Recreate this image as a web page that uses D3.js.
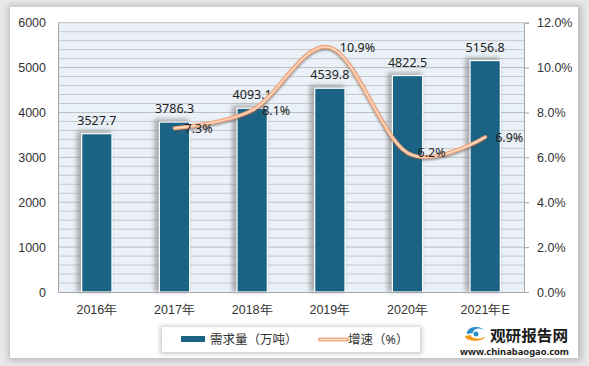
<!DOCTYPE html>
<html><head><meta charset="utf-8">
<script src="https://cdn.jsdelivr.net/npm/d3@7"></script>
<style>
html,body{margin:0;padding:0;background:#e9e9e9;}
svg{display:block;font-family:"Noto Sans","Noto Sans CJK SC",sans-serif;}
</style></head><body>
<svg id="c" width="589" height="366"></svg>
<script>
const categories = ["2016年","2017年","2018年","2019年","2020年","2021年E"];
const demand = [3527.7, 3786.3, 4093.1, 4539.8, 4822.5, 5156.8];
const growthCats = ["2017年","2018年","2019年","2020年","2021年E"];
const growth = [7.3, 8.1, 10.9, 6.2, 6.9];
const leftTicks = [0,1000,2000,3000,4000,5000,6000];
const rightTicks = [0,2,4,6,8,10,12];
const seriesNames = ["需求量（万吨）","增速（%）"];

const svg = d3.select("#c");
const defs = svg.append("defs");
const f1 = defs.append("filter").attr("id","panelShadow").attr("x","-5%").attr("y","-5%").attr("width","110%").attr("height","110%");
f1.append("feGaussianBlur").attr("stdDeviation",3);
const f2 = defs.append("filter").attr("id","barShadow").attr("x","-50%").attr("y","-20%").attr("width","200%").attr("height","140%");
f2.append("feGaussianBlur").attr("stdDeviation",2);
const f3 = defs.append("filter").attr("id","lineShadow").attr("x","-10%").attr("y","-10%").attr("width","120%").attr("height","120%");
f3.append("feGaussianBlur").attr("stdDeviation",1);

// panel
svg.append("rect").attr("x",8).attr("y",5).attr("width",574).attr("height",356).attr("fill","#bdbdbd").attr("filter","url(#panelShadow)");
svg.append("rect").attr("x",10).attr("y",7).attr("width",568).attr("height",351).attr("fill","#ffffff");

const L=58, R=524, T=22.7, B=292;
const x = d3.scaleBand().domain(categories).range([L,R]).paddingInner(0.61).paddingOuter(0.305);
const y = d3.scaleLinear().domain([0,6000]).range([B,T]);
const y2 = d3.scaleLinear().domain([0,12]).range([B,T]);

svg.append("rect").attr("x",L).attr("y",T).attr("width",R-L).attr("height",B-T).attr("fill","#eaf1f8");
// grid
svg.append("g").selectAll("line").data(d3.range(200,6001,200)).join("line")
  .attr("x1",L).attr("x2",R).attr("y1",d=>y(d)).attr("y2",d=>y(d))
  .attr("stroke",d=>d%1000===0?"#bdbdbd":"#c9c9c9").attr("stroke-width",1);

// bars
const bw = x.bandwidth();
svg.append("g").selectAll("rect").data(demand).join("rect")
  .attr("x",(d,i)=>x(categories[i])-5).attr("y",d=>y(d)-3)
  .attr("width",bw+4).attr("height",d=>B-y(d)+3)
  .attr("fill","#777").attr("opacity",0.55).attr("filter","url(#barShadow)");
svg.append("g").selectAll("rect").data(demand).join("rect")
  .attr("x",(d,i)=>x(categories[i])).attr("y",d=>y(d))
  .attr("width",bw).attr("height",d=>B-y(d))
  .attr("fill","#1b6385").attr("stroke","#ffffff").attr("stroke-width",1.2);

// axes
const gl = svg.append("g").attr("transform",`translate(${L},0)`)
  .call(d3.axisLeft(y).tickValues(leftTicks).tickSize(0).tickPadding(12).tickFormat(d3.format("d")));
gl.select(".domain").attr("stroke","#a6a6a6");
gl.selectAll("text").attr("font-size",12.5).attr("fill","#333");
const gr = svg.append("g").attr("transform",`translate(${R},0)`)
  .call(d3.axisRight(y2).tickValues(rightTicks).tickSize(5).tickPadding(8).tickFormat(d=>d.toFixed(1)+"%"));
gr.select(".domain").attr("stroke","#a6a6a6");
gr.selectAll("line").attr("stroke","#a6a6a6");
gr.selectAll("text").attr("font-size",12.5).attr("fill","#333");
const gb = svg.append("g").attr("transform",`translate(0,${B})`)
  .call(d3.axisBottom(x).tickSize(0).tickPadding(13));
gb.select(".domain").attr("stroke","#a6a6a6");
gb.selectAll("text").attr("font-size",12.5).attr("fill","#333");

// bar labels
svg.append("g").selectAll("text").data(demand).join("text")
  .attr("x",(d,i)=>x(categories[i])+bw/2).attr("y",d=>y(d)-9)
  .attr("text-anchor","middle").attr("font-size",12.5).attr("fill","#222")
  .text(d=>d.toFixed(1));

// line
const cx = c=>x(c)+bw/2;
const line = d3.line().x((d,i)=>cx(growthCats[i])).y(d=>y2(d)).curve(d3.curveCardinal.tension(0));
svg.append("path").datum(growth).attr("d",line).attr("fill","none").attr("stroke","#555").attr("stroke-opacity",0.6)
  .attr("stroke-width",4).attr("transform","translate(0,1.5)").attr("filter","url(#lineShadow)");
svg.append("path").datum(growth).attr("d",line).attr("fill","none").attr("stroke","#f4a57a").attr("stroke-width",4).attr("stroke-linecap","round");
svg.append("path").datum(growth).attr("d",line).attr("fill","none").attr("stroke","#fde3d0").attr("stroke-width",1.3).attr("stroke-linecap","round");
svg.append("g").selectAll("text").data(growth).join("text")
  .attr("x",(d,i)=>cx(growthCats[i])+10).attr("y",d=>y2(d)+4.5)
  .attr("font-size",12.5).attr("fill","#222").text(d=>d.toFixed(1)+"%");

// legend
svg.append("rect").attr("x",160).attr("y",326).attr("width",262).attr("height",28).attr("fill","#999").attr("opacity",0.5).attr("filter","url(#barShadow)");
svg.append("rect").attr("x",162).attr("y",327).attr("width",258).attr("height",25).attr("fill","#fff");
svg.append("rect").attr("x",181).attr("y",336).attr("width",24).attr("height",6).attr("fill","#1b6385");
svg.append("text").attr("x",210).attr("y",344).attr("font-size",12.5).attr("fill","#333").text(seriesNames[0]);
svg.append("line").attr("x1",320).attr("x2",347).attr("y1",339.5).attr("y2",339.5).attr("stroke","#f4a57a").attr("stroke-width",4).attr("stroke-linecap","round");
svg.append("line").attr("x1",320).attr("x2",347).attr("y1",339.5).attr("y2",339.5).attr("stroke","#fde3d0").attr("stroke-width",1.3);
svg.append("text").attr("x",348).attr("y",344).attr("font-size",12.5).attr("fill","#333").text(seriesNames[1]);

// logo
const lg = svg.append("g");
lg.append("path").attr("d","M467,334 a9,6 0 1,1 18,-2 a6,4 0 1,0 -12,1 z").attr("fill","#2a8fc4");
lg.append("path").attr("d","M465,336 a10,5 0 0,0 20,0 a7,3 0 0,1 -14,-1 z").attr("fill","#f39a1e");
lg.append("circle").attr("cx",476).attr("cy",334).attr("r",2.5).attr("fill","#2a8fc4");
lg.append("text").attr("x",490).attr("y",340.5).attr("font-size",15).attr("font-weight","bold").attr("fill","#1a1a1a")
  .attr("font-family","Noto Sans CJK SC").attr("textLength",78).attr("lengthAdjust","spacingAndGlyphs").text("观研报告网");
lg.append("text").attr("x",460).attr("y",355).attr("font-size",8.5).attr("font-weight","bold").attr("fill","#1a1a1a")
  .attr("textLength",109).attr("lengthAdjust","spacingAndGlyphs").text("www.chinabaogao.com");
</script></body></html>
